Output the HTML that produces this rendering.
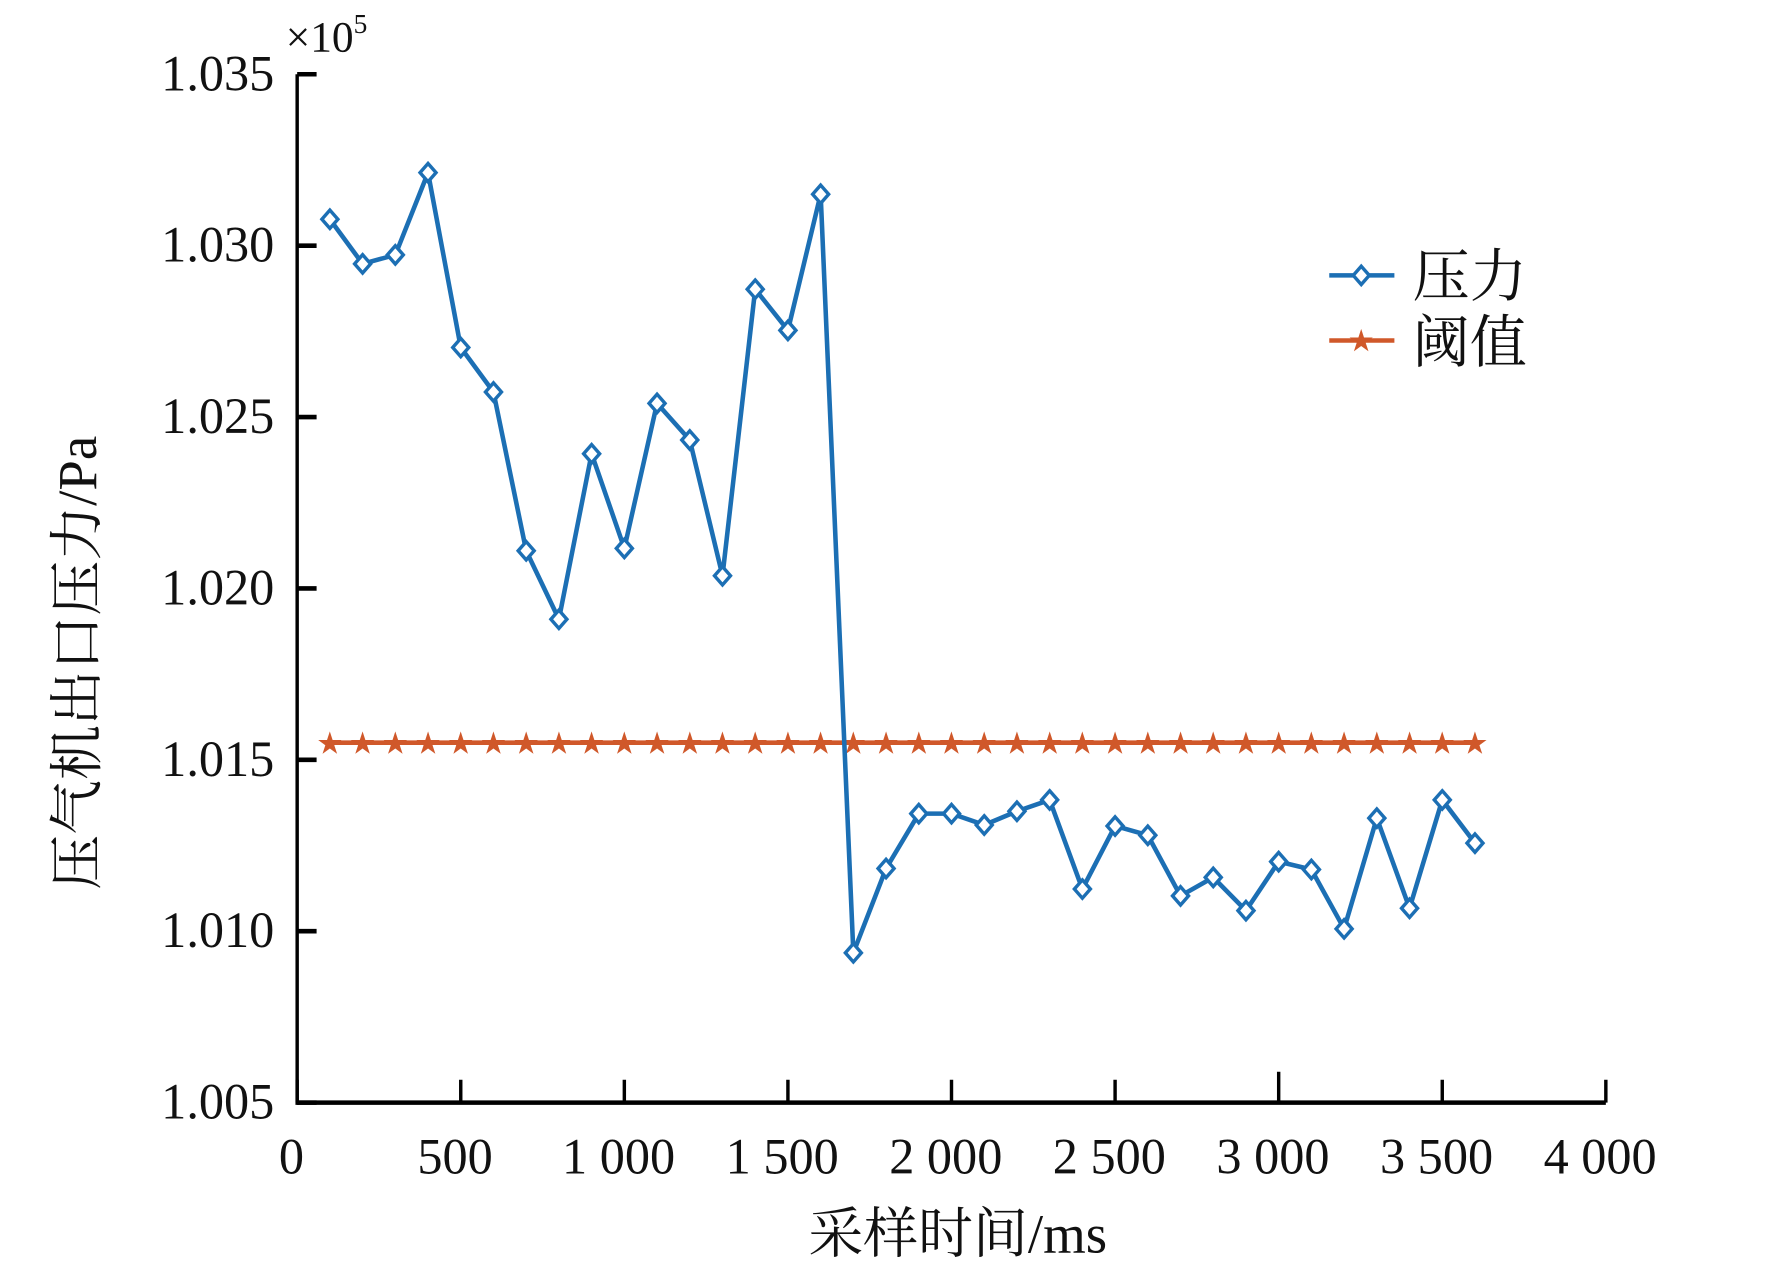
<!DOCTYPE html>
<html><head><meta charset="utf-8"><style>
html,body{margin:0;padding:0;background:#fff;}
svg{display:block;}
text{font-family:"Liberation Serif","Noto Serif CJK SC",serif;fill:#111;}
</style></head><body>
<svg id="chart" width="1783" height="1266" viewBox="0 0 1560 1108" preserveAspectRatio="none" xmlns="http://www.w3.org/2000/svg">
<g id="axes"></g>
<g id="marks"></g>
<g>
  <line x1="1163" y1="241" x2="1220" y2="241" stroke="#1c6fb4" stroke-width="4"/>
  <path d="M1191 233 L1198 241 L1191 249 L1184 241 Z" fill="#fff" stroke="#1c6fb4" stroke-width="3"/>
  <text x="1236" y="259" font-size="50">压力</text>
  <line x1="1163" y1="298" x2="1220" y2="298" stroke="#d0582a" stroke-width="4"/>
  <text x="1191" y="306" font-size="22" text-anchor="middle" fill="#d0582a" style="fill:#d0582a">★</text>
  <text x="1236" y="317" font-size="50">阈值</text>
</g>
<text x="250" y="45" font-size="38">×10<tspan font-size="24" dy="-16">5</tspan></text>
<text x="838" y="1096" font-size="48" text-anchor="middle">采样时间/ms</text>
<text transform="translate(84,580) rotate(-90)" font-size="48" text-anchor="middle">压气机出口压力/Pa</text>
</svg>
<script>
const xTicks=[0,500,1000,1500,2000,2500,3000,3500,4000];
const xTickLabels=["0","500","1 000","1 500","2 000","2 500","3 000","3 500","4 000"];
const yTicks=[1.005,1.010,1.015,1.020,1.025,1.030,1.035];
const yTickLabels=["1.005","1.010","1.015","1.020","1.025","1.030","1.035"];
const times=[100,200,300,400,500,600,700,800,900,1000,1100,1200,1300,1400,1500,1600,1700,1800,1900,2000,2100,2200,2300,2400,2500,2600,2700,2800,2900,3000,3100,3200,3300,3400,3500,3600];
const pressure=[1.03077,1.02947,1.02973,1.03213,1.02703,1.02573,1.02110,1.01910,1.02393,1.02117,1.02540,1.02433,1.02037,1.02873,1.02753,1.03150,1.00937,1.01183,1.01343,1.01343,1.01310,1.01350,1.01383,1.01123,1.01307,1.01280,1.01103,1.01157,1.01060,1.01203,1.01180,1.01007,1.01330,1.01067,1.01383,1.01257];
const threshold=[1.0155,1.0155,1.0155,1.0155,1.0155,1.0155,1.0155,1.0155,1.0155,1.0155,1.0155,1.0155,1.0155,1.0155,1.0155,1.0155,1.0155,1.0155,1.0155,1.0155,1.0155,1.0155,1.0155,1.0155,1.0155,1.0155,1.0155,1.0155,1.0155,1.0155,1.0155,1.0155,1.0155,1.0155,1.0155,1.0155];

const NS="http://www.w3.org/2000/svg";
const X0=260,X1=1405,Y0=965,Y1=65;
function sx(v){return X0+(v-0)/(4000-0)*(X1-X0);}
function sy(v){return Y0-(v-1.005)/(1.035-1.005)*(Y0-Y1);}
function mk(tag,attrs,parent){const e=document.createElementNS(NS,tag);for(const k in attrs)e.setAttribute(k,attrs[k]);parent.appendChild(e);return e;}
const axes=document.getElementById('axes'),marks=document.getElementById('marks');

let l=mk('line',{x1:X0,y1:Y0,x2:X1,y2:Y0,stroke:'#000','stroke-width':4},axes);


l=mk('line',{x1:X0,y1:Y0+2,x2:X0,y2:Y1,stroke:'#000','stroke-width':3},axes);



xTicks.forEach((v,i)=>{
  const t=mk('line',{x1:sx(v),y1:Y0,x2:sx(v),y2:Y0-(v===3000?27:20),stroke:'#000','stroke-width':3},axes);
  
  
  const tx=mk('text',{x:sx(v)-5,y:1027,'font-size':44,'text-anchor':'middle'},axes);
  
  
  tx.textContent=xTickLabels[i];
});
yTicks.forEach((v,i)=>{
  const t=mk('line',{x1:X0,y1:sy(v),x2:X0+17,y2:sy(v),stroke:'#000','stroke-width':4},axes);
  
  
  const tx=mk('text',{x:240,y:sy(v)+14,'font-size':44,'text-anchor':'end'},axes);
  
  
  tx.textContent=yTickLabels[i];
});

let pts=times.map((t,i)=>sx(t)+','+sy(threshold[i])).join(' ');
let pl=mk('polyline',{points:pts,fill:'none',stroke:'#d0582a','stroke-width':4},marks);


times.forEach((t,i)=>{
  const s=mk('text',{x:sx(t),y:sy(threshold[i])+8,'font-size':22,'text-anchor':'middle',style:'fill:#d0582a'},marks);
  
  
  s.textContent='★';
});

pts=times.map((t,i)=>sx(t)+','+sy(pressure[i])).join(' ');
pl=mk('polyline',{points:pts,fill:'none',stroke:'#1c6fb4','stroke-width':4,'stroke-linejoin':'round'},marks);


times.forEach((t,i)=>{
  const x=sx(t),y=sy(pressure[i]);
  const d=mk('path',{d:`M${x} ${y-8} L${x+7} ${y} L${x} ${y+8} L${x-7} ${y} Z`,fill:'#fff',stroke:'#1c6fb4','stroke-width':3},marks);
  
  
});
</script>
</body></html>
